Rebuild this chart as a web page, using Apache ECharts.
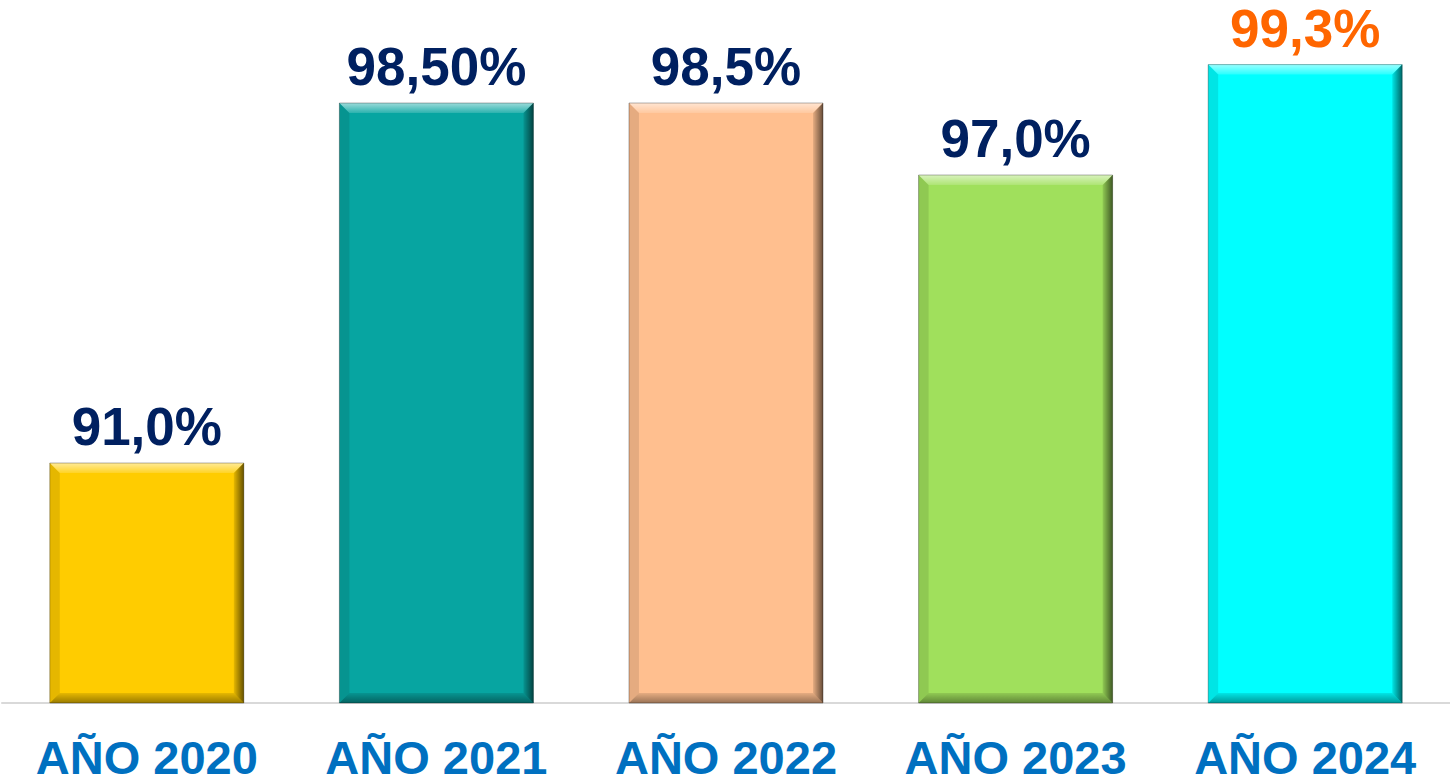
<!DOCTYPE html>
<html>
<head>
<meta charset="utf-8">
<style>
  html, body { margin: 0; padding: 0; background: #ffffff; }
  #chart { width: 1450px; height: 783px; }
</style>
<script src="https://cdn.jsdelivr.net/npm/echarts@6/dist/echarts.min.js"></script>
</head>
<body>
<div id="chart"></div>
<script>
  var categories = ['AÑO 2020', 'AÑO 2021', 'AÑO 2022', 'AÑO 2023', 'AÑO 2024'];
  var values = [91.0, 98.5, 98.5, 97.0, 99.3];
  var valueLabels = ['91,0%', '98,50%', '98,5%', '97,0%', '99,3%'];
  var barColors = ['#FFCC00', '#07A5A1', '#FFBF8F', '#A0E05C', '#00FFFF'];
  var labelColors = ['#002060', '#002060', '#002060', '#002060', '#FF6600'];
  var yMin = 86, yMax = 100;

  var chart = echarts.init(document.getElementById('chart'), null, { renderer: 'svg' });

  // bar with a bevelled look: base rect + 4 shaded edges
  function renderItem(params, api) {
    var i = api.value(0);
    var top = api.coord([i, api.value(1)]);
    var base = api.coord([i, yMin]);
    var w = api.size([1, 0])[0] * 0.67;
    var x0 = top[0] - w / 2, x1 = top[0] + w / 2, y0 = top[1], y1 = base[1];
    var b = 10;
    return {
      type: 'group',
      children: [
        { type: 'rect', shape: { x: x0, y: y0, width: w, height: y1 - y0 }, style: { fill: barColors[i] } },
        { type: 'polygon', shape: { points: [[x0, y0], [x1, y0], [x1 - b, y0 + b], [x0 + b, y0 + b]] },
          style: { fill: new echarts.graphic.LinearGradient(0, 0, 0, 1, [
            { offset: 0, color: 'rgba(255,255,255,0.6)' }, { offset: 1, color: 'rgba(255,255,255,0.15)' }]) } },
        { type: 'polygon', shape: { points: [[x1, y0], [x1, y1], [x1 - b, y1 - b], [x1 - b, y0 + b]] },
          style: { fill: new echarts.graphic.LinearGradient(0, 0, 1, 0, [
            { offset: 0, color: 'rgba(0,0,0,0.1)' }, { offset: 1, color: 'rgba(0,0,0,0.6)' }]) } },
        { type: 'polygon', shape: { points: [[x0, y1], [x1, y1], [x1 - b, y1 - b], [x0 + b, y1 - b]] },
          style: { fill: new echarts.graphic.LinearGradient(0, 0, 0, 1, [
            { offset: 0, color: 'rgba(0,0,0,0.1)' }, { offset: 1, color: 'rgba(0,0,0,0.4)' }]) } },
        { type: 'polygon', shape: { points: [[x0, y0], [x0 + b, y0 + b], [x0 + b, y1 - b], [x0, y1]] },
          style: { fill: 'rgba(0,0,0,0.1)' } },
        { type: 'rect', shape: { x: x0, y: y0, width: w, height: y1 - y0 },
          style: { fill: 'none', stroke: 'rgba(0,0,0,0.3)', lineWidth: 1 } },
        { type: 'text', x: top[0], y: y0 - 10,
          style: { text: valueLabels[i], fill: labelColors[i], textAlign: 'center', textVerticalAlign: 'bottom',
                   fontFamily: 'Liberation Sans, Arial, sans-serif', fontWeight: 'bold', fontSize: 53 } }
      ]
    };
  }

  chart.setOption({
    animation: false,
    grid: { left: 2, right: 0, top: 31, bottom: 80 },
    xAxis: {
      type: 'category',
      data: categories,
      axisTick: { show: false },
      axisLine: { lineStyle: { color: '#d9d9d9', width: 2 } },
      axisLabel: {
        interval: 0,
        hideOverlap: false,
        color: '#0070C0',
        fontFamily: 'Liberation Sans, Arial, sans-serif',
        fontWeight: 'bold',
        fontSize: 47,
        lineHeight: 40,
        margin: 34
      }
    },
    yAxis: {
      type: 'value',
      min: yMin,
      max: yMax,
      show: false
    },
    series: [{
      type: 'custom',
      renderItem: renderItem,
      encode: { x: 0, y: 1 },
      data: values.map(function (v, i) { return [i, v]; })
    }]
  });
</script>
</body>
</html>
